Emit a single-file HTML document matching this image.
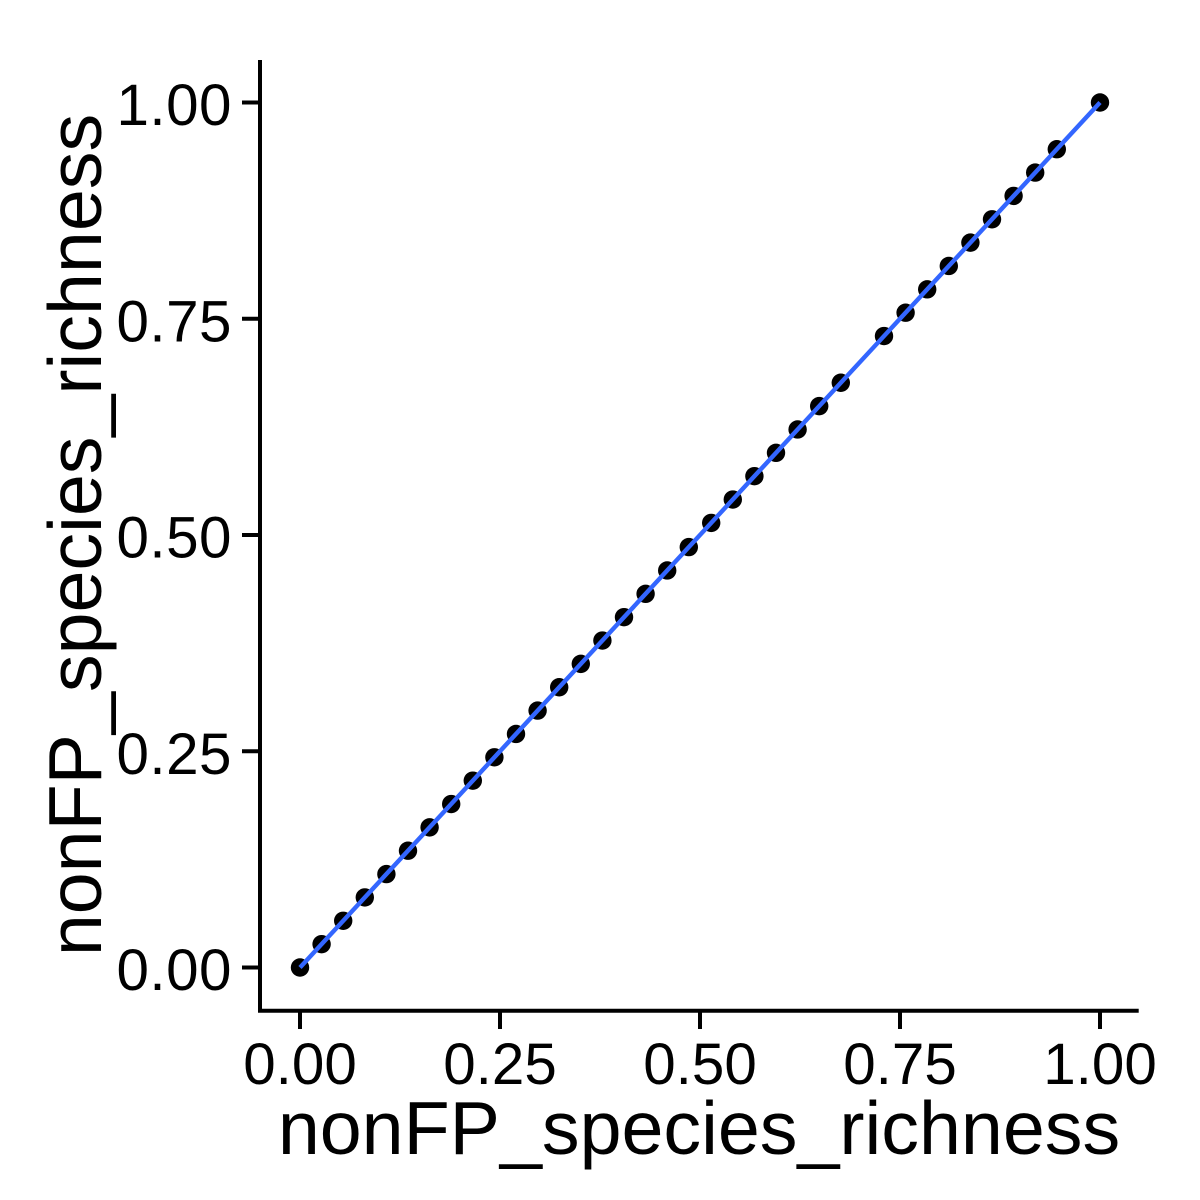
<!DOCTYPE html>
<html>
<head>
<meta charset="utf-8">
<title>nonFP species richness scatter</title>
<style>
html,body{margin:0;padding:0;background:#fff;width:1200px;height:1200px;overflow:hidden}
svg{display:block}
text{font-family:"Liberation Sans",Arial,sans-serif;fill:#000}
</style>
</head>
<body>
<svg id="chart" xmlns="http://www.w3.org/2000/svg" width="1200" height="1200" viewBox="0 0 1200 1200">
  <rect x="0" y="0" width="1200" height="1200" fill="#ffffff"/>
  <g id="points"></g>
  <g id="trend"></g>
  <g id="axes"></g>
</svg>
<script>
const xValues = [0, 0.027, 0.054, 0.081, 0.108, 0.135, 0.162, 0.189, 0.216, 0.243, 0.27, 0.297, 0.324, 0.351, 0.378, 0.405, 0.432, 0.459, 0.486, 0.514, 0.541, 0.568, 0.595, 0.622, 0.649, 0.676, 0.73, 0.757, 0.784, 0.811, 0.838, 0.865, 0.892, 0.919, 0.946, 1];
const yValues = [0, 0.027, 0.054, 0.081, 0.108, 0.135, 0.162, 0.189, 0.216, 0.243, 0.27, 0.297, 0.324, 0.351, 0.378, 0.405, 0.432, 0.459, 0.486, 0.514, 0.541, 0.568, 0.595, 0.622, 0.649, 0.676, 0.73, 0.757, 0.784, 0.811, 0.838, 0.865, 0.892, 0.919, 0.946, 1];
const trendX = [0, 1];
const trendY = [0, 1];
const xTicks = [0, 0.25, 0.5, 0.75, 1];
const yTicks = [0, 0.25, 0.5, 0.75, 1];
const xTickLabels = ['0.00', '0.25', '0.50', '0.75', '1.00'];
const yTickLabels = ['0.00', '0.25', '0.50', '0.75', '1.00'];
const xTitle = 'nonFP_species_richness';
const yTitle = 'nonFP_species_richness';

const NS = 'http://www.w3.org/2000/svg';
function sx(v) { return 300 + v * 800; }
function sy(v) { return 967.5 - v * 865; }
function make(tag, attrs, parent) {
  const el = document.createElementNS(NS, tag);
  for (const k in attrs) el.setAttribute(k, attrs[k]);
  parent.appendChild(el);
  return el;
}
const pointsG = document.getElementById('points');
const trendG = document.getElementById('trend');
const axesG = document.getElementById('axes');

xValues.forEach(function (v, i) {
  const c = make('circle', { cx: sx(v), cy: sy(yValues[i]), r: 9.2, fill: '#000000' }, pointsG);
  
  
});

const trend = make('polyline', {
  points: trendX.map(function (v, i) { return sx(v) + ',' + sy(trendY[i]); }).join(' '),
  fill: 'none', stroke: '#3366FF', 'stroke-width': 4.4
}, trendG);



const yAxisLine = make('line', { x1: 260, y1: 60, x2: 260, y2: 1012.5, stroke: '#000', 'stroke-width': 4 }, axesG);


const xAxisLine = make('line', { x1: 258, y1: 1010.7, x2: 1138.7, y2: 1010.7, stroke: '#000', 'stroke-width': 4 }, axesG);



xTicks.forEach(function (v, i) {
  const t = make('line', { x1: sx(v), y1: 1012, x2: sx(v), y2: 1029, stroke: '#000', 'stroke-width': 4 }, axesG);
  
  
  const l = make('text', { x: sx(v), y: 1084, 'text-anchor': 'middle', 'font-size': 58.33 }, axesG);
  
  
  l.textContent = xTickLabels[i];
});

yTicks.forEach(function (v, i) {
  const t = make('line', { x1: 242, y1: sy(v), x2: 258.5, y2: sy(v), stroke: '#000', 'stroke-width': 4 }, axesG);
  
  
  const l = make('text', { x: 232, y: sy(v) + 22.5, 'text-anchor': 'end', 'font-size': 58.33, 'letter-spacing': 0.5 }, axesG);
  
  
  l.textContent = yTickLabels[i];
});

const xt = make('text', { x: 699, y: 1154, 'text-anchor': 'middle', 'font-size': 75.4 }, axesG);


xt.textContent = xTitle;

const yt = make('text', { x: 0, y: 0, transform: 'translate(101,535) rotate(-90)', 'text-anchor': 'middle', 'font-size': 75.4 }, axesG);


yt.textContent = yTitle;
</script>
</body>
</html>
